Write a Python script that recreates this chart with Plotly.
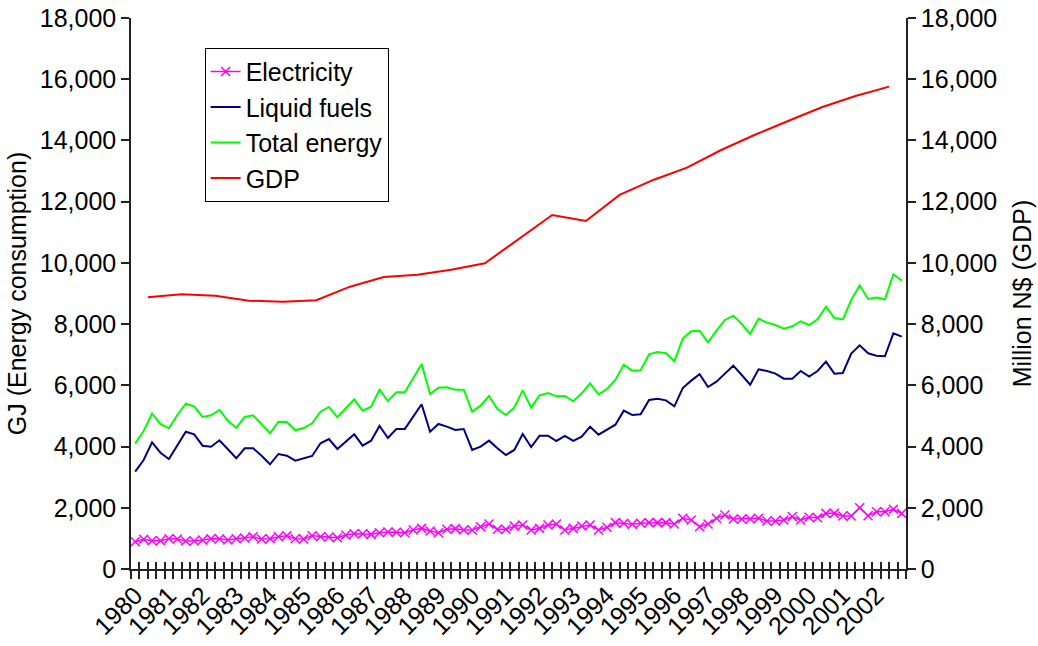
import plotly.graph_objects as go

# ---- data ----
years = [str(y) for y in range(1980, 2003)]
quarter_index = list(range(92))  # 1980Q1 .. 2002Q4

electricity = [892, 969, 925, 925, 991, 980, 914, 914, 947, 991, 991, 947, 991, 1013, 1056, 980,
               991, 1056, 1089, 991, 980, 1089, 1056, 1045, 1023, 1111, 1154, 1154, 1132, 1187, 1209, 1198,
               1187, 1274, 1328, 1241, 1187, 1296, 1318, 1274, 1274, 1383, 1470, 1296, 1300, 1400,
               1437, 1274, 1328, 1437, 1470, 1274, 1328, 1405, 1437, 1274, 1361, 1514, 1492, 1459, 1492, 1514,
               1514, 1514, 1470, 1655, 1601, 1383, 1470, 1655, 1764, 1633, 1633, 1633, 1655, 1568, 1568, 1601,
               1709, 1601, 1688, 1677, 1818, 1818, 1731, 1731, 2004, 1742, 1873, 1873, 1949, 1818]

liquid_fuels = [3179, 3561, 4139, 3800, 3594, 4051, 4486, 4400, 4028, 3996, 4205, 3911, 3617, 3943, 3943, 3702,
                3420, 3757, 3702, 3538, 3626, 3691, 4106, 4247, 3920, 4159, 4400, 4028, 4192, 4672, 4280, 4574,
                4574, 4976, 5380, 4486, 4737, 4650, 4541, 4574, 3888, 3997, 4193, 3942, 3724, 3888, 4410, 3986,
                4356, 4356, 4182, 4345, 4182, 4323, 4650, 4388, 4552, 4715, 5172, 5031, 5053, 5521, 5565, 5510,
                5314, 5910, 6153, 6360, 5946, 6120, 6382, 6643, 6338, 6022, 6523, 6469, 6382, 6218, 6218, 6469,
                6284, 6469, 6773, 6382, 6403, 7035, 7307, 7046, 6970, 6948, 7699, 7590]

total_energy = [4106, 4508, 5074, 4737, 4597, 5031, 5400, 5315, 4966, 5021, 5195, 4845, 4616, 4966, 5021, 4727,
                4433, 4812, 4802, 4531, 4606, 4760, 5139, 5293, 4956, 5250, 5544, 5172, 5303, 5858, 5489, 5773,
                5771, 6229, 6697, 5717, 5924, 5935, 5859, 5859, 5140, 5336, 5652, 5227, 5031, 5271, 5837, 5271,
                5673, 5750, 5641, 5652, 5477, 5739, 6066, 5706, 5881, 6175, 6676, 6480, 6491, 7013, 7089, 7046,
                6784, 7530, 7770, 7780, 7405, 7786, 8135, 8276, 8004, 7677, 8178, 8047, 7971, 7852, 7928, 8091,
                7971, 8156, 8570, 8200, 8156, 8788, 9267, 8821, 8865, 8810, 9627, 9420]

gdp = [8876, 8975, 8929, 8765, 8733, 8778, 9223, 9540, 9615, 9778, 9987, 10790, 11565, 11369, 12219,
       12709, 13111, 13679, 14179, 14636, 15084, 15453, 15757]

# ---- positions derived from the data ----
n_q = len(quarter_index)
year_pos = [4 * k + 1.5 for k in range(len(years))]      # GDP at mid-year
label_pos = [4 * k for k in range(len(years))]            # year labels at first quarter
boundaries = [i - 0.5 for i in range(n_q + 1)]
xr = [-0.5, n_q - 0.5]

FONT = "Liberation Sans, Arial, sans-serif"
FS = 25
BLACK = "#000000"
AXC = "#222222"

fig = go.Figure()
fig.add_trace(go.Scatter(x=quarter_index, y=electricity, name="Electricity", mode="lines+markers",
                         line=dict(color="#FF00FF", width=1.5),
                         marker=dict(symbol="x-thin", size=9, line=dict(color="#FF00FF", width=1.5))))
fig.add_trace(go.Scatter(x=quarter_index, y=liquid_fuels, name="Liquid fuels", mode="lines",
                         line=dict(color="#000080", width=2)))
fig.add_trace(go.Scatter(x=quarter_index, y=total_energy, name="Total energy", mode="lines",
                         line=dict(color="#00FF00", width=2)))
fig.add_trace(go.Scatter(x=year_pos, y=gdp, name="GDP", mode="lines", xaxis="x2", yaxis="y2",
                         line=dict(color="#FF0000", width=2)))

yt = list(range(0, 18001, 2000))
ytext = [f"{v:,}" for v in yt]
tf = dict(family=FONT, size=FS, color=BLACK)

fig.update_layout(
    width=1038, height=646, autosize=False,
    margin=dict(l=131, r=132, t=18, b=77, pad=0),
    paper_bgcolor="white", plot_bgcolor="white",
    font=tf,
    showlegend=True,
    legend=dict(x=0.095, y=0.946, xanchor="left", yanchor="top",
                bordercolor=BLACK, borderwidth=1, bgcolor="white",
                font=tf, tracegroupgap=0),
    xaxis=dict(range=xr, tickmode="array", tickvals=label_pos, ticktext=years, tickangle=-45,
               ticks="", showgrid=False, zeroline=False, showline=True, linecolor=AXC, linewidth=1.5,
               tickfont=tf, automargin=False, ticklabeloverflow="allow",
               minor=dict(tickmode="array", tickvals=boundaries, ticks="outside", ticklen=8,
                          tickcolor=AXC, tickwidth=1.5, showgrid=False)),
    xaxis2=dict(range=xr, overlaying="x", anchor="y2", side="bottom", tickmode="array",
                tickvals=boundaries, ticks="inside", ticklen=7, tickcolor=AXC, tickwidth=1.5,
                showticklabels=False, showgrid=False, zeroline=False, showline=False, automargin=False),
    yaxis=dict(range=[0, 18000], tickmode="array", tickvals=yt, ticktext=ytext,
               ticks="outside", ticklen=8, tickcolor=AXC, tickwidth=1.5, showgrid=False, zeroline=False,
               showline=True, linecolor=AXC, linewidth=1.5, automargin=False, ticklabeloverflow="allow",
               title=dict(text="GJ (Energy consumption)", font=tf, standoff=6),
               tickfont=tf),
    yaxis2=dict(range=[0, 18000], overlaying="y", side="right", anchor="x2", tickmode="array",
                tickvals=yt, ticktext=ytext, ticks="outside", ticklen=8, tickcolor=AXC, tickwidth=1.5,
                showgrid=False, zeroline=False, showline=True, linecolor=AXC, linewidth=1.5,
                automargin=False, ticklabeloverflow="allow",
                title=dict(text="Million N$ (GDP)", font=tf, standoff=17),
                tickfont=tf),
    yaxis3=dict(range=[0, 18000], overlaying="y", side="left", anchor="x", tickmode="array",
                tickvals=yt, ticks="inside", ticklen=7, tickcolor=AXC, tickwidth=1.5, showticklabels=False,
                showgrid=False, zeroline=False, showline=False, automargin=False),
    yaxis4=dict(range=[0, 18000], overlaying="y", side="right", anchor="x", tickmode="array",
                tickvals=yt, ticks="inside", ticklen=7, tickcolor=AXC, tickwidth=1.5, showticklabels=False,
                showgrid=False, zeroline=False, showline=False, automargin=False),
)

# remove the default page margin so the figure sits at the window's top-left corner
fig.write_html("out.html", config={"displayModeBar": False},
               post_script="document.body.style.margin='0px';")
